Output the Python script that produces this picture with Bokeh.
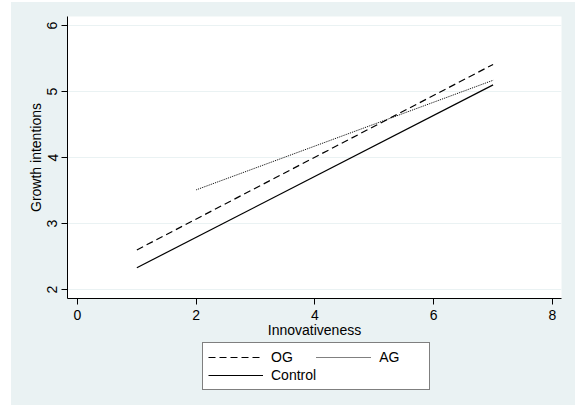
from bokeh.plotting import figure
from bokeh.models import Legend, LegendItem, FixedTicker, Range1d, Title
from bokeh.layouts import column
from bokeh.embed import file_html
from bokeh.resources import INLINE

# Data
x_og = [1, 7]
y_og = [2.60, 5.41]
x_ag = [2, 7]
y_ag = [3.51, 5.17]
x_ctrl = [1, 7]
y_ctrl = [2.33, 5.10]
x_ticks = [0, 2, 4, 6, 8]
y_ticks = [2, 3, 4, 5, 6]
series_labels = ["OG", "AG", "Control"]

BG = "#EAF2F3"
FONT = "Liberation Sans"
STYLES = [dict(line_dash="7 4", line_width=1.2),
          dict(line_dash="1 1", line_width=1.0),
          dict(line_dash="solid", line_width=1.2)]

# ---- main plot ----
p = figure(
    width=564, height=338,
    min_border_left=56, min_border_right=14, min_border_top=14, min_border_bottom=42,
    x_range=Range1d(-0.168, 8.152), y_range=Range1d(1.864, 6.136),
    output_backend="svg", toolbar_location=None,
    background_fill_color="white", border_fill_color=BG,
)
p.outline_line_color = None

data = [(x_og, y_og), (x_ag, y_ag), (x_ctrl, y_ctrl)]
for (xs, ys), st in zip(data, STYLES):
    p.line(xs, ys, line_color="black", **st)

p.xgrid.visible = False
p.ygrid.grid_line_color = BG
p.ygrid.grid_line_width = 1

p.xaxis.ticker = FixedTicker(ticks=x_ticks)
p.yaxis.ticker = FixedTicker(ticks=y_ticks)
for ax in (p.xaxis, p.yaxis):
    ax.axis_line_color = "black"
    ax.axis_line_width = 1
    ax.major_tick_line_color = "black"
    ax.major_tick_out = 6
    ax.major_tick_in = 0
    ax.minor_tick_line_color = None
    ax.major_label_text_font = FONT
    ax.major_label_text_font_size = "14px"
    ax.major_label_text_color = "black"
    ax.axis_label_text_font = FONT
    ax.axis_label_text_font_size = "14px"
    ax.axis_label_text_font_style = "normal"
    ax.axis_label_text_color = "black"

p.xaxis.axis_label = "Innovativeness"
p.xaxis.major_label_standoff = 5
p.xaxis.axis_label_standoff = -1
p.yaxis.major_label_orientation = "vertical"
p.yaxis.major_label_standoff = 4

ytitle = Title(text="Growth intentions", align="center", offset=19,
               text_font=FONT, text_font_size="14px", text_font_style="normal",
               text_color="black", standoff=2)
p.add_layout(ytitle, "left")

# ---- legend strip below ----
p2 = figure(
    width=564, height=65, min_border=0,
    x_range=Range1d(100, 101), y_range=Range1d(100, 101),
    x_axis_location=None, y_axis_location=None,
    output_backend="svg", toolbar_location=None,
    background_fill_color=BG, border_fill_color=BG,
)
p2.outline_line_color = None
p2.grid.visible = False
proxies = []
for (xs, ys), st in zip(data, STYLES):
    proxies.append(p2.line(xs, ys, line_color="black", **st))

legend = Legend(
    items=[LegendItem(label=lab, renderers=[r]) for lab, r in zip(series_labels, proxies)],
    orientation="horizontal", ncols=2,
    location=(135, 15),
    glyph_width=55, glyph_height=18, label_standoff=8, label_width=45,
    spacing=0, padding=5, margin=0,
    label_text_font=FONT, label_text_font_size="14px", label_text_color="black",
    border_line_color="black", border_line_width=1,
    background_fill_color="white", background_fill_alpha=1,
)
p2.add_layout(legend, "center")

layout = column(p, p2, spacing=0)
layout.styles = {"margin-left": "11px", "margin-top": "2px", "background-color": BG}

open("out.html", "w").write(file_html(layout, INLINE))
